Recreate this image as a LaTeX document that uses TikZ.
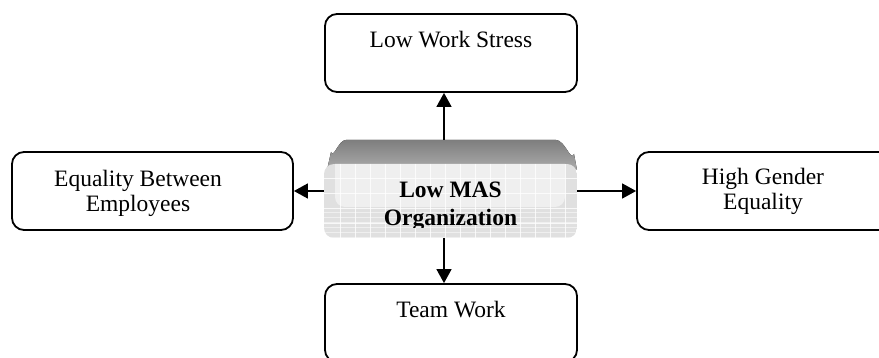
\documentclass[tikz,border=0pt]{standalone}
\usepackage{fontspec}
\setmainfont{Liberation Serif}
\usetikzlibrary{arrows.meta}
\definecolor{facegray}{HTML}{E0E0E0}
\definecolor{panelgray}{HTML}{EFEFEF}
\definecolor{topdark}{HTML}{7E7E7E}
\definecolor{toplight}{HTML}{ABABAB}
\tikzset{
  box/.style={draw=black, line width=1.8pt, rounded corners=12pt, minimum height=78pt, inner sep=0pt},
  lbl/.style={anchor=base, inner sep=0pt, font=\fontsize{23.5}{27}\selectfont},
  blbl/.style={anchor=base, inner sep=0pt, font=\fontsize{23.5}{27}\selectfont\bfseries},
  arr/.style={line width=1.4pt, -{Triangle[length=14pt,width=15pt]}},
}
\begin{document}
\begin{tikzpicture}[x=1pt,y=-1pt]
\useasboundingbox (0,0) rectangle (879,358);
\clip (0,0) rectangle (879,358);
% centre shape graphics
\fill[top color=topdark, bottom color=toplight]
  (327,170) -- (331,152) to[out=-70,in=180] (346,140) -- (556,140) to[out=0,in=-110] (574,154) -- (577,170) -- cycle;
\begin{scope}
  \clip[rounded corners=10pt] (324,164) rectangle (577,238);
  \fill[facegray] (324,164) rectangle (577,238);
  \fill[panelgray, rounded corners=10pt] (335,150) rectangle (565,207);
  \foreach \gx in {340,355,...,575} \draw[white, line width=0.8pt, opacity=0.8] (\gx,164) -- (\gx,238);
  \foreach \gy in {178,193,...,238} \draw[white, line width=0.8pt, opacity=0.8] (324,\gy) -- (577,\gy);
  \foreach \gy in {212,217,...,238} \draw[white, line width=0.4pt, opacity=0.5] (324,\gy) -- (577,\gy);
\end{scope}
\node[minimum width=253pt, minimum height=98pt, inner sep=0pt] (ctr) at (450.5,189) {};
\begin{scope}
  \clip (324,140) rectangle (577,228);
  \node[blbl] (ctrA) at (450.5,198) {Low MAS};
  \node[blbl] (ctrB) at (450.5,225.5) {Organization};
\end{scope}
% boxes
\node[box, minimum width=252pt] (top) at (451,53) {};
\node[lbl] (topT) at (451,48) {Low Work Stress};
\node[box, minimum width=252pt] (bot) at (451,323) {};
\node[lbl] (botT) at (451,318) {Team Work};
\node[box, minimum width=281pt] (left) at (152.5,191) {};
\node[lbl] (leftA) at (138,187) {Equality Between};
\node[lbl] (leftB) at (138,212) {Employees};
\node[box, minimum width=281pt] (right) at (777.5,191) {};
\node[lbl] (rightA) at (763,185) {High Gender};
\node[lbl] (rightB) at (763,210) {Equality};
% arrows
\draw[arr] ([xshift=-6.5pt]ctr.north) -- ([xshift=-7pt]top.south);
\draw[arr] ([xshift=-6.5pt]ctr.south) -- ([xshift=-7pt]bot.north);
\draw[arr] (ctr.west |- left.east) -- (left.east);
\draw[arr] (ctr.east |- right.west) -- (right.west);
\end{tikzpicture}
\end{document}
